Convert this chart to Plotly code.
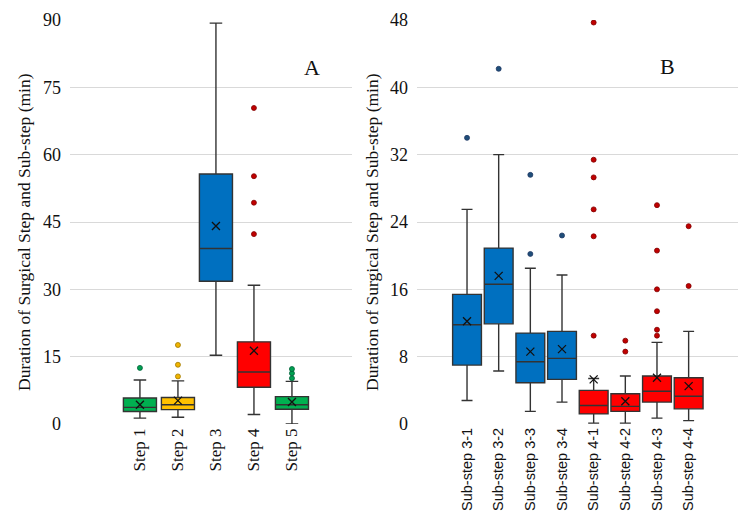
import plotly.graph_objects as go
from plotly.subplots import make_subplots

# Panel A - surgical steps
steps = ["Step 1", "Step 2", "Step 3", "Step 4", "Step 5"]
step_low = [1.3, 1.5, 15.3, 2.1, 0.0]
step_q1 = [2.8, 3.2, 31.8, 8.2, 3.3]
step_med = [3.7, 4.3, 39.1, 11.6, 4.3]
step_q3 = [5.8, 5.9, 55.7, 18.3, 6.1]
step_high = [9.8, 9.6, 89.3, 30.9, 9.5]
step_mean = [4.3, 5.2, 44.1, 16.3, 4.9]
step_outliers = [[12.5], [10.6, 13.2, 17.6], [], [42.3, 49.3, 55.2, 70.4], [10.2, 11.3, 12.25]]

# Panel B - sub-steps
substeps = ["Sub-step 3-1", "Sub-step 3-2", "Sub-step 3-3", "Sub-step 3-4",
            "Sub-step 4-1", "Sub-step 4-2", "Sub-step 4-3", "Sub-step 4-4"]
sub_low = [2.8, 6.3, 1.5, 2.6, 0.1, 0.1, 0.7, 0.4]
sub_q1 = [7.0, 11.9, 4.9, 5.3, 1.2, 1.5, 2.6, 1.8]
sub_med = [11.8, 16.6, 7.4, 7.8, 2.2, 2.1, 3.9, 3.3]
sub_q3 = [15.4, 20.9, 10.8, 11.0, 4.0, 3.6, 5.7, 5.5]
sub_high = [25.5, 32.0, 18.5, 17.7, 5.4, 5.7, 9.7, 11.0]
sub_mean = [12.2, 17.6, 8.6, 8.9, 5.3, 2.7, 5.5, 4.5]
sub_outliers = [[34.0], [42.2], [20.2, 29.6], [22.4],
                [10.5, 22.3, 25.5, 29.3, 31.4, 47.7], [8.6, 9.9],
                [10.5, 11.2, 13.4, 16.0, 20.6, 26.0], [16.4, 23.5]]

GREEN, YELLOW, BLUE, RED = "#00B050", "#FFC000", "#0070C0", "#FF0000"
step_colors = [GREEN, YELLOW, BLUE, RED, GREEN]
sub_colors = [BLUE] * 4 + [RED] * 4
# darker dots for outliers
dot_colors = {GREEN: ("#00A050", "#00603A"), YELLOW: ("#F0B400", "#A07800"),
              BLUE: ("#1F4E79", "#1F3864"), RED: ("#C00000", "#800000")}

SERIF = "Liberation Serif, Times New Roman, DejaVu Serif, serif"
SANS = "Liberation Sans, Arial, sans-serif"
EDGE = "#333333"

fig = make_subplots(rows=1, cols=2)


def add_panel(col, cats, low, q1, med, q3, high, mean, outl, colors, width):
    for i, c in enumerate(cats):
        fig.add_trace(go.Box(
            x=[c], q1=[q1[i]], median=[med[i]], q3=[q3[i]],
            lowerfence=[low[i]], upperfence=[high[i]],
            fillcolor=colors[i], line=dict(color=EDGE, width=1.4),
            width=width, whiskerwidth=0.38, boxpoints=False,
            showlegend=False, hoverinfo="skip"), row=1, col=col)
        if outl[i]:
            fill, edge = dot_colors[colors[i]]
            fig.add_trace(go.Scatter(
                x=[c] * len(outl[i]), y=outl[i], mode="markers",
                marker=dict(size=5, color=fill, line=dict(color=edge, width=0.8)),
                showlegend=False), row=1, col=col)
    fig.add_trace(go.Scatter(
        x=cats, y=mean, mode="markers",
        marker=dict(symbol="x-thin", size=8, line=dict(color="#111111", width=1.3)),
        showlegend=False), row=1, col=col)


add_panel(1, steps, step_low, step_q1, step_med, step_q3, step_high,
          step_mean, step_outliers, step_colors, 0.87)
add_panel(2, substeps, sub_low, sub_q1, sub_med, sub_q3, sub_high,
          sub_mean, sub_outliers, sub_colors, 0.91)

# page has an 8px body margin, so the figure starts at (8, 8) in the window
OFF = 8
W, H = 746 - OFF, 522 - OFF


def px(x):
    return min(1.0, (x - OFF) / W)


def py(y):
    return (H + OFF - y) / H


ydom = [py(424), py(20)]
ytitle = "Duration of Surgical Step and Sub-step (min)"

fig.update_layout(
    width=W, height=H, template=None,
    paper_bgcolor="white", plot_bgcolor="white",
    margin=dict(l=0, r=0, t=0, b=0), boxmode="overlay",
    xaxis=dict(domain=[px(70), px(352)], type="category", range=[-1.84, 5.58],
               tickangle=-90, tickfont=dict(family=SERIF, size=17, color="#111111"),
               showgrid=False, zeroline=False, showline=False, ticks="",
               automargin=False),
    xaxis2=dict(domain=[px(417), px(745)], type="category", range=[-1.58, 8.78],
                tickangle=-90, tickfont=dict(family=SANS, size=14.5, color="#111111"),
                showgrid=False, zeroline=False, showline=False, ticks="",
                automargin=False),
    yaxis=dict(domain=ydom, range=[0, 90], tickvals=[0, 15, 30, 45, 60, 75, 90],
               gridcolor="#D9D9D9", gridwidth=1, zeroline=False, showline=False,
               ticks="", ticklabelstandoff=8, automargin=False,
               tickfont=dict(family=SERIF, size=18, color="#111111")),
    yaxis2=dict(domain=ydom, range=[0, 48], tickvals=[0, 8, 16, 24, 32, 40, 48],
                gridcolor="#D9D9D9", gridwidth=1, zeroline=False, showline=False,
                ticks="", ticklabelstandoff=8, automargin=False,
                tickfont=dict(family=SERIF, size=18, color="#111111")),
    annotations=[
        dict(text="A", x=px(312), y=py(53), xref="paper", yref="paper",
             showarrow=False, font=dict(family=SERIF, size=22, color="#111111")),
        dict(text="B", x=px(677), y=py(52), xref="paper", yref="paper",
             showarrow=False, font=dict(family=SERIF, size=22, color="#111111")),
        dict(text=ytitle, textangle=-90,
             x=px(12), y=py(232), xref="paper", yref="paper", showarrow=False,
             font=dict(family=SERIF, size=17.5, color="#111111")),
        dict(text=ytitle, textangle=-90,
             x=px(372), y=py(232), xref="paper", yref="paper", showarrow=False,
             font=dict(family=SERIF, size=17.5, color="#111111")),
    ],
)

fig.write_html("out.html")
